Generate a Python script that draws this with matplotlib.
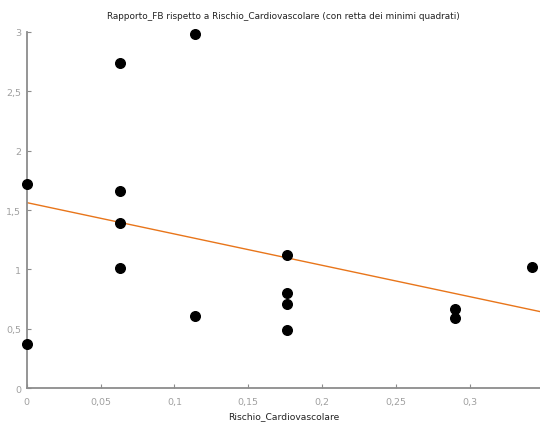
import numpy as np
import matplotlib
matplotlib.use('Agg')
from matplotlib import pyplot as plt
from matplotlib.ticker import FuncFormatter

rischio = [0, 0, 0.063, 0.063, 0.063, 0.063, 0.114, 0.114,
           0.176, 0.176, 0.176, 0.176, 0.29, 0.29, 0.342]
rapporto_fb = [1.72, 0.37, 2.74, 1.66, 1.39, 1.01, 2.98, 0.61,
               1.12, 0.80, 0.71, 0.49, 0.67, 0.59, 1.02]

x_ticks = [0, 0.05, 0.1, 0.15, 0.2, 0.25, 0.3]
y_ticks = [0, 0.5, 1, 1.5, 2, 2.5, 3]

plt.rcParams['font.family'] = ['DejaVu Sans']

fig = plt.figure(figsize=(5.4, 4.27), dpi=100)
ax = fig.add_axes([0.0496, 0.0883, 0.9504, 0.8351])

# retta dei minimi quadrati
slope, intercept = np.polyfit(rischio, rapporto_fb, 1)
xmax = 0.3477
xl = np.array([0, xmax])
ax.plot(xl, intercept + slope * xl, color='#e8751a', lw=1.0, zorder=2)

ax.scatter(rischio, rapporto_fb, s=48, color='black', zorder=3, clip_on=False)

ax.set_xlim(0, xmax)
ax.set_ylim(0, 3)
ax.set_xticks(x_ticks)
ax.set_yticks(y_ticks)

fmt = FuncFormatter(lambda v, p: ('%g' % v).replace('.', ','))
ax.xaxis.set_major_formatter(fmt)
ax.yaxis.set_major_formatter(fmt)

for s in ['top', 'right']:
    ax.spines[s].set_visible(False)
for s in ['left', 'bottom']:
    ax.spines[s].set_color('#8c8c8c')
    ax.spines[s].set_linewidth(1.3)

ax.tick_params(direction='in', length=3, width=0.8, color='#8c8c8c',
               labelcolor='#a0a0a0', labelsize=6.8)
ax.tick_params(axis='x', pad=6)
ax.tick_params(axis='y', pad=4)

ax.set_xlabel('Rischio_Cardiovascolare', fontsize=6.6, color='#222222', labelpad=4)
ax.set_title('Rapporto_FB rispetto a Rischio_Cardiovascolare (con retta dei minimi quadrati)',
             fontsize=6.4, color='#222222', pad=10)

fig.savefig('out.png', dpi=100)
